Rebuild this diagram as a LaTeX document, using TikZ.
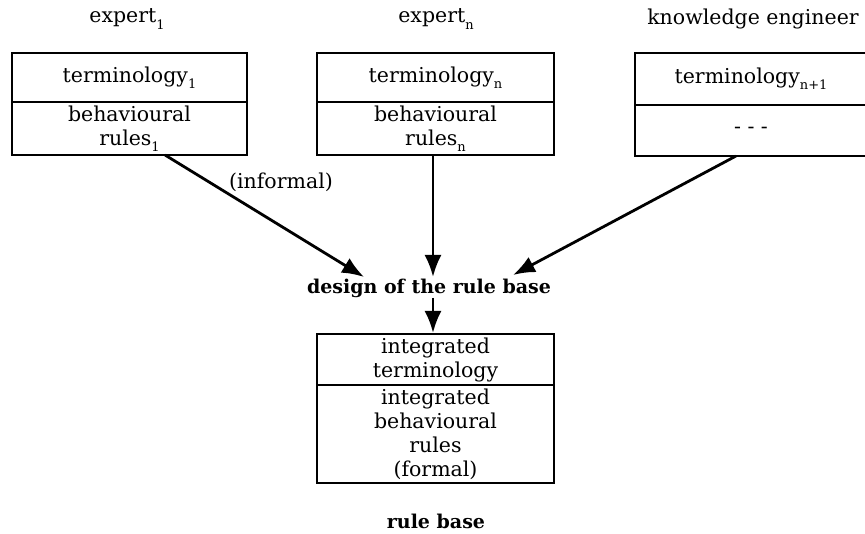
\documentclass[tikz,border=0pt]{standalone}
\usepackage{fontspec}
\setmainfont{DejaVu Serif}
\usetikzlibrary{arrows.meta,calc}
\newcommand\lowsub[1]{\raisebox{-0.6ex}{\fontsize{13}{13}\selectfont #1}}
\begin{document}
\begin{tikzpicture}[x=1pt,y=-1pt,
  cell/.style={draw, line width=1.7pt, inner sep=0pt, align=center, font=\fontsize{20.5}{24}\selectfont},
  lbl/.style={inner sep=0pt, align=center, font=\fontsize{20.5}{24}\selectfont},
  boldlbl/.style={inner sep=0pt, font=\fontsize{19}{24}\selectfont\bfseries},
  arr/.style={line width=2.8pt, -{Latex[length=22pt,width=17pt]}}]
\useasboundingbox[fill=white] (0,0) rectangle (865,534);

% headers
\node[lbl] (h1) at (127,19) {expert\lowsub{1}};
\node[lbl] (h2) at (436,19) {expert\lowsub{n}};
\node[lbl] (h3) at (753,19) {knowledge engineer};

% box 1
\node[cell, minimum width=235pt, minimum height=49pt] (t1) at (129.5,77.5) {terminology\lowsub{1}};
\node[cell, minimum width=235pt, minimum height=53pt] (r1) at (129.5,128.5) {behavioural\\rules\lowsub{1}};
% box 2
\node[cell, minimum width=237pt, minimum height=49pt] (t2) at (435.5,77.5) {terminology\lowsub{n}};
\node[cell, minimum width=237pt, minimum height=53pt] (r2) at (435.5,128.5) {behavioural\\rules\lowsub{n}};
% box 3 (cut by the right edge)
\node[cell, minimum width=232pt, minimum height=52pt] (t3) at (751,79) {terminology\lowsub{n+1}};
\node[cell, minimum width=232pt, minimum height=51pt] (r3) at (751,130.5) {- - -};

% design
\node[boldlbl] (d) at (429,288) {design of the rule base};

% rule base box
\node[cell, minimum width=237pt, minimum height=51pt] (rb1) at (435.5,359.5) {integrated\\terminology};
\node[cell, minimum width=237pt, minimum height=98pt] (rb2) at (435.5,434) {integrated\\behavioural\\rules\\(formal)};
\node[boldlbl] (rb) at (436,521) {rule base};

% connectors
\coordinate (s1) at (165,155);
\coordinate (e1) at (364,277);
\coordinate (s2) at (433,155);
\coordinate (e2) at (433,277);
\coordinate (s3) at (736,156);
\coordinate (e3) at (513,275);
\coordinate (s4) at (433,298);
\coordinate (e4) at (433,333);
\draw[arr] (s1) -- (e1);
\draw[arr] (s2) -- (e2);
\draw[arr] (s3) -- (e3);
\draw[arr] (s4) -- (e4);
\node[lbl] (inf) at (281,182) {(informal)};
\end{tikzpicture}
\end{document}
